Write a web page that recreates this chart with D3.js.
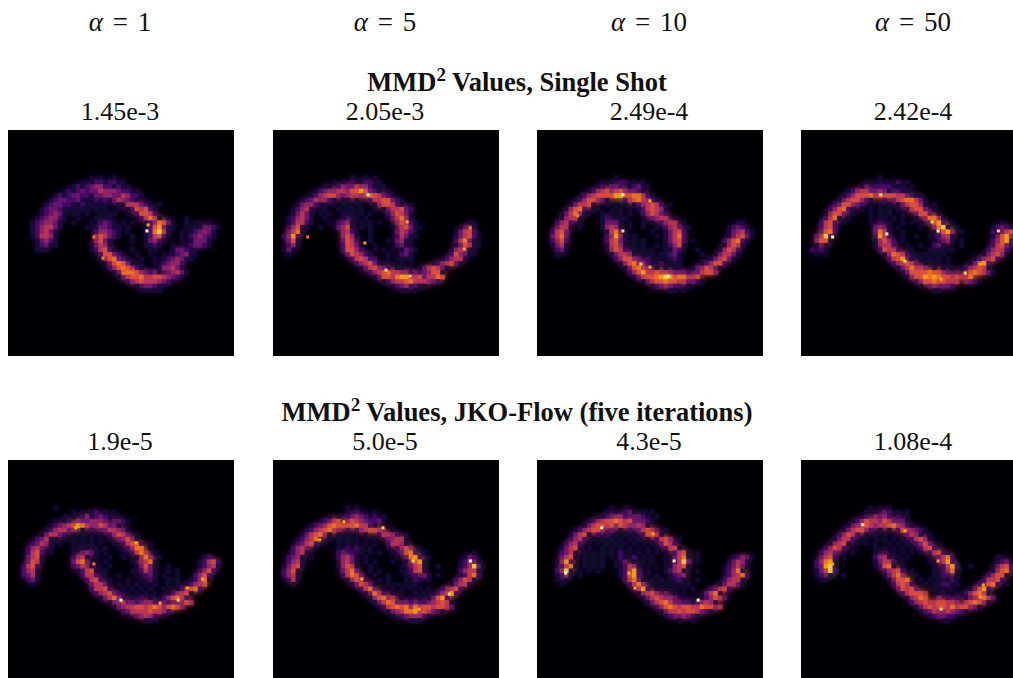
<!DOCTYPE html>
<html><head><meta charset="utf-8">
<script src="https://cdn.jsdelivr.net/npm/d3@7"></script>
<style>html,body{margin:0;padding:0;background:#fff;overflow:hidden}svg{display:block}</style>
</head><body><svg id="c" width="1013" height="678"></svg>
<script>
const alphaValues = [1, 5, 10, 50];
const singleShotLabels = ["1.45e-3", "2.05e-3", "2.49e-4", "2.42e-4"];
const jkoFlowLabels = ["1.9e-5", "5.0e-5", "4.3e-5", "1.08e-4"];
const titles = ["Values, Single Shot", "Values, JKO-Flow (five iterations)"];

// Intensity, 0-9, on a 50 x 50 grid.
// Each line is one grid row (first line = row 9), written as "column:digits" runs.
const density1 = [
"","15:101001","13:1012212211","11:1212344221211","9:12123233544432211","7:12123322133443354221",
"6:1233223111212135432101","5:12332211211110101155532101","4:12332111011010100101265621",
"4:123431011010010110010266520","3:12344210010001011 25:125751 32:1 36:1",
"2:1234431 11:1 15:1 17:232101 24:1 27:124763 33:1 36:1 38:1101",
"2:1245531 14:1 16:133211 23:1 27:126831 33:1 36:1 38:113321",
"2:124531 16:244321 23:1 27:127951 35:1 37:123431",
"2:125541 16:465321 24:1 27:125621 35:1 37:234321",
"3:13421 16:4631 24:1 27:13421 35:1 37:13331",
"3:12311 15:13541 27:1121 33:1 36:123321",
"3:111 15:125621 24:1 28:11 33:13321",
"16:1266321 25:1 28:1 31:1 33:123411",
"17:1467321 26:1 29:1 31:1234311",
"18:13676311 26:1 29:1 31:23442",
"19:24676421 30:144531",
"20:13677643231234531",
"21:135667556654321",
"23:24565554321","25:1233211","26:11111"
];
const density2 = [
"","18:1 21:1 23:1","14:1 16:1 18:21122 24:1","12:11024335442111","10:12344554668632101",
"9:1245664345545765321","7:12354421 16:11 19:1 22:25566321",
"6:1344211 14:1 16:1 18:1 20:1 23:1466521 31:1",
"5:12451 12:1 15:1 17:11 20:1 23:1 25:1355632",
"5:13531 11:1 13:1 16:111 20:1 22:1 26:246531",
"4:124531 12:1 16:12 19:1 21:1 26:1357410",
"4:125521 13:1 15:2341 20:1 22:1 24:1 28:46521 44:11",
"4:24611 11:1 15:3461 20:1 22:1 27:1 29:56311 42:1341",
"4:3571 16:4521 22:1 28:3542 41:13562",
"3:2482 16:4641 22:1 28:25311 41:135621",
"4:361 16:3652 22:1 26:1 28:3411 41:25731",
"4:241 16:26531 23:1 28:231 41:136511",
"3:131 16:26642 23:1 25:1 27:1 29:1321 40:145411",
"4:1 17:365421 26:1 29:231 40:264311",
"18:256522 26:1 28:1 30:11 38:124551",
"19:2456311 27:1 29:1 31:1 36:1245631",
"20:1356432 28:11 33:1356531",
"22:24567554423 33:234661",
"23:1366578855635576","25:1245567555432","27:12342211","29:11 32:1"
];
const density3 = [
"","17:1","14:1 16:1 18:22 21:1 23:1","13:120332012311","11:1245645643321","9:12456666886677521",
"8:12466431 19:25675421","7:135561 15:1 17:1 19:1 21:1245652 29:1",
"6:14672 12:11 16:1 18:1 20:1 22:1256541","5:135741 11:1 14:1 16:1 18:1 20:1 23:246532",
"5:14551 14:1 15:2 17:1 19:1 23:1 25:3455 30:1",
"4:2452 9:1 14:13331 20:1 23:1 25:1 27:2455 32:1 44:11",
"4:3551 9:1 14:14541 20:1 23:1 26:1 28:2453 33:1 42:12321",
"3:2563 15:15731 25:1 28:13562 42:134521",
"3:3573 15:24841 21:1 26:1 28:13572 42:135631",
"3:2462 15:25631 21:1 23:1 28:13562 34:1 41:246721",
"3:1351 15:15641 21:1 23:1 26:1 28:12461 41:14651",
"4:231 15:14652 21:1 23:1 25:1 28:11321 35:1 40:14652",
"4:11 16:135541 23:1 25:1 27:1 29:231 36:1 39:135531",
"17:246643 24:2 26:1 28:1 30:21 37:1 38:135631",
"18:14674421 27:2 29:1 31:1 36:124662",
"19:13675431 28:1 30:11 34:1346531",
"20:24685565543332 35:35664",
"21:135667898677556","23:13566766553321","25:1234322 33:1","29:11 32:1"
];
const density4 = [
"","17:1","14:1 16:1 18:11 21:2 23:1","13:1302222 20:111 24:1","10:12455334312211","9:124666756666553211",
"8:13566421 18:2 20:35677531","7:2366432 15:1 17:1 19:1 21:1356641 29:1",
"6:246721 13:1 15:1 17:1 19:1 21:1 23:25663 29:1","5:14663 11:1 15:1 17:1 19:1 22:1 25:3663 30:1",
"5:2571 10:1 15:1 17:11 20:1 22:1 25:1 27:47741",
"4:2562 9:1 15:1 17:2 19:1 22:1 24:1 26:1 28:3682 33:1 44:1",
"4:2562 16:3431 21:1 26:1 29:4791 34:1 42:12321",
"4:3672 16:3751 22:1 29:13684 35:1 42:213563",
"3:3592 16:2852 22:1 25:1 28:1 30:2451 42:136841",
"3:4661 16:14642 22:1 29:1 31:341 35:1 42:24682",
"3:131 16:14552 23:1 26:1 29:231 35:1 42:25632",
"2:2 4:21 17:26552 24:1 28:1 30:1 32:11 41:24552",
"3:1 5:1 18:147652 25:1 27:1 29:1 31:1 40:135641",
"19:256831 26:1 28:1 30:1 32:1 38:124562",
"20:245653 27:1 29:11 32:1 37:13682",
"21:1357554 29:1 31:1 33:1 35:124565 41:1",
"22:13666676643 34:3 36:4676531",
"23:146687876656557","25:2466766555 36:4321","26:1 28:343332","29:11"
];
const density5 = [
"","10:1","14:1 16:1 18:12 21:1 23:1","12:1 14:1 16:2412321 24:1","10:1 12:12 15:4334443 23:3321",
"9:1234568754465331","8:1245534 16:1 18:2 20:3355431","7:135532 14:1 16:1 18:1 20:1 22:24653 28:1",
"6:23511 12:1 14:1 16:1 18:1 20:1 22:1 24:34641","5:23541 11:1 14:1 16:1 18:1 20:1 23:1 25:25662 31:1",
"4:2453 9:1 14:1 16:11 19:1 21:1 24:1 26:2477 31:1",
"4:2562 9:1 14:1 16:3431 21:1 25:1 27:2575 32:1",
"4:3561 14:2451 19:1 22:1 25:1 28:1474 33:1 43:12",
"4:3651 14:3673 19:1 21:1 27:1 29:4571 42:12562",
"3:2562 14:23541 20:1 22:1 28:13631 35:1 42:12451",
"3:2451 15:12561 21:1 27:1 29:2531 35:1 37:1 42:2462",
"3:2351 16:2552 21:1 24:1 28:1 30:231 34:1 37:1 41:2462",
"4:231 17:2562 22:1 26:1 29:1 31:21 35:1 37:1 40:12471",
"5:1 18:35531 24:1 26:1 28:1 30:1 32:1 35:1 37:1 39:12456",
"18:25562 25:1 27:1 29:1 31:1 34:1 37:124672",
"19:245632 26:1 28:1 30:1 32:1 35:124561",
"20:135742 27:1 29:2 31:1 33:1246752",
"22:13453 27:32344223233465",
"23:1345566567646764","25:23555565542","26:1 28:34542 34:1","30:111"
];
const density6 = [
"","16:1 18:1","16:1 18:2 20:1 22:1","12:1 14:1 16:23432 22:2 24:1","10:123563465432231",
"8:123467666675521","7:12456754 16:2 18:2456654 26:1","6:1356741 14:1 16:1 18:1 20:1 23:25542 29:1",
"5:124572 12:1 14:1 16:1 18:1 20:1 22:1 25:34551","5:23562 11:1 14:1 16:1 18:1 20:1 22:1 25:25541",
"4:2453 9:1 14:1 16:2 18:21 21:1 25:1 27:2464 32:1",
"4:2451 14:23 17:2 19:1 21:1 23:1 26:1 28:3672 33:1 44:1",
"3:2341 8:1 14:24531 20:1 27:1 29:3782 34:1 42:132",
"3:2451 15:4531 20:1 22:1 26:1 29:14681 41:12431",
"2:13561 14:14651 21:1 28:1 30:3561 36:1 41:124931",
"2:2461 15:3573 21:1 23:1 28:1 30:2561 41:24551",
"2:2451 15:25763 22:1 25:1 29:1 31:2331 36:1 41:12572",
"3:251 16:14652 23:1 25:1 29:1 31:21 34:1 40:24651",
"4:1 17:136531 25:1 27:1 29:1 31:1 39:13551",
"19:2573 24:1 26:1 28:1 30:1 32:1 34:1 37:24562",
"20:13752 26:1 28:1 31:1 33:1 35:124582",
"21:146745 28:1 30:1 32:1 34:13682",
"22:13576333 30:2322345651",
"23:12567674756656653","25:1345778565321","26:1 28:2344421","30:111"
];
const density7 = [
"","15:1 18:1","14:1 16:1 18:231 22:1 24:1","12:1123442 20:3321 25:1","10:124566765633321",
"9:135665646544541","7:1245664 15:3 17:1 19:2 21:35653 27:1","6:13561 12:2 14:2 16:1 18:1 20:1 22:26651",
"6:2452 11:1 13:1 15:1 17:1 19:1 21:1 23:1 25:2564 30:1",
"5:2452 10:1 12:1 14:1 16:1 18:1 20:1 22:1 24:1 26:3652",
"4:13561 10:1 13:1 15:1 17:1 19:1 21:1 23:1 25:1 27:2561",
"4:2351 9:1 11:1 13:1 15:1 17:2 19:1 21:1 23:1 25:1 27:1 29:2561 34:1",
"4:3561 9:1 11:1 13:1 15:1 17:21 20:2 22:1 24:1 27:1 29:3571 34:1 42:12431",
"3:1482 9:1 11:1 13:1 16:1 18:3 20:1 22:1 24:1 27:1 29:2593 34:1 41:13541",
"4:2571 9:1 11:1 13:1 16:1 18:2541 23:1 25:1 27:1 28:14561 41:23531",
"3:2491 8:1 10:1 12:1 17:12582 23:1 27:12451 34:1 40:12471",
"3:1241 8:1 17:12682 23:1 25:1 28:12341 41:24572",
"3:1 5:1 18:25731 24:1 26:1 28:1 30:21 34:1 40:24551",
"4:1 19:2574 24:1 26:1 28:1 30:1 32:1 39:135531",
"20:2582 25:1 27:1 29:1 31:1 33:1 37:23562",
"21:14564 27:3 29:1 31:1 35:13571",
"22:135654 28:43 31:1 33:1 35:124653",
"23:13567533 31:221 34:24541",
"25:246765665576645","26:135565665321","27:12 29:334321","30:1 33:1"
];
const density8 = [
"","15:1 17:1 19:1","14:1 16:1 18:32 21:1 23:1","13:1204342 21:2 23:1","11:1246554653331",
"10:134565455675421","9:135664 15:2 17:1 19:1 21:2654321","8:24652 14:1 16:1 18:1 20:1 23:3541 28:1",
"7:13552 13:1 16:1 18:1 20:1 22:1 24:25641","6:14561 12:1 14:1 16:1 19:1 21:1 23:1 25:2463 30:1",
"5:24652 11:1 16:1 18:1 20:1 22:1 24:1 26:2562",
"4:2453 9:1 11:1 16:1 18:2 20:1 22:1 24:1 26:1 28:25621",
"4:3562 9:1 16:2451 21:1 23:1 28:1 30:3572 43:11",
"3:24781 16:13552 22:1 28:1 30:3582 43:1231",
"3:23891 16:12671 22:1 29:1 31:2582 37:1 42:13562",
"3:13592 18:24562 24:1 29:1 31:2471 42:14672",
"3:1231 9:1 18:13574 25:1 29:1 31:22 34:1 41:24661",
"4:11 19:13667 26:1 28:1 30:1 32:121 40:25562",
"20:25652 27:1 29:1 31:22 34:1 39:23672 45:1",
"21:36563 29:1 31:1 33:1 37:13682",
"22:256665 30:1 32:1 34:1 35:1 36:246751",
"23:14576 30:4 32:2 34:2 36:1345753",
"24:24565566554 36:56764 41:1",
"25:135656657566431","26:12354454321","28:1233221","31:11"
];
const densityGrids = [density1, density2, density3, density4, density5, density6, density7, density8];
const gridColumnStart = [3, -1, 0, 0, 0, 0, 1, 0];

// Brightest single cells on the 75 x 75 image grid: [column, row, intensity 0-10].
const hot1 = [[45.6,33,10],[46,31,8],[28,35,7],[31,42,7],[38,47,7],[41,46,6]];
const hot2 = [[31,21,10],[11,35,7],[30,37,8],[37,46,9],[45,48,9],[44,30,8],[63,39,8],[65,32,7],[63,36,7]];
const hot3 = [[28,21,10],[28,33,9],[37,23,8],[43,48,10],[34,44,9],[37,45,8],[13,28,7]];
const hot4 = [[10,35,10],[28,34,10],[26,21,9],[45,33,10],[43,30,9],[34,43,9],[65,33,9],[59,44,8],[54,47,9],[46,49,8]];
const hot5 = [[37,46,10],[28,34,7],[22,22,8],[42,27,8],[64,39,8],[56,46,9],[50,47,8],[59,42,8]];
const hot6 = [[65,33,10],[46,33,9],[58,44,9],[15,26,8],[23,20,8],[36,22,9],[48,49,8],[29,39,8]];
const hot7 = [[21,22,10],[45,33,10],[53,46,10],[9,37,10],[30,37,8],[38,24,8],[32,42,8]];
const hot8 = [[20,21,10],[10,34,8],[45,33,8],[46,49,9],[34,23,8],[60,41,8],[59,45,8]];
const hotCells = [hot1, hot2, hot3, hot4, hot5, hot6, hot7, hot8];

const panelLefts = [8, 273, 537, 801];
const panelTops = [130, 460];
const panelSize = 226;
const firstRow = 9;

const svg = d3.select("#c");
const coarse = d3.scaleLinear().domain([0, 50]).range([0, panelSize]);
const fine = d3.scaleLinear().domain([0, 75]).range([0, panelSize]);
const colour = d3.scaleSequential(d3.interpolateInferno).domain([0, 10]);
const serif = "'Liberation Serif','Times New Roman',serif";

svg.append("defs").append("filter").attr("id", "soft")
  .attr("filterUnits", "userSpaceOnUse").attr("x", 0).attr("y", 0)
  .attr("width", panelSize).attr("height", panelSize)
  .append("feGaussianBlur").attr("stdDeviation", 3.2);

densityGrids.forEach((grid, i) => {
  const left = panelLefts[i % 4], top = panelTops[i < 4 ? 0 : 1];
  const g = svg.append("g").attr("transform", `translate(${left},${top})`);
  g.append("rect").attr("width", panelSize).attr("height", panelSize).attr("fill", colour(0));
  const cells = [];
  grid.forEach((row, r) => {
    row.split(" ").filter(Boolean).forEach(run => {
      const [start, digits] = run.split(":");
      [...digits].forEach((ch, k) => {
        if (+ch > 0) cells.push({c: +start + k + gridColumnStart[i], r: r + firstRow, v: +ch});
      });
    });
  });
  const drawCells = sel => sel.selectAll("rect").data(cells).join("rect")
    .attr("x", d => coarse(d.c)).attr("y", d => coarse(d.r))
    .attr("width", coarse(1) + 0.3).attr("height", coarse(1) + 0.3)
    .attr("fill", d => colour(d.v));
  // A blurred copy under the cells gives the soft halo the bands have in the picture.
  g.append("g").attr("filter", "url(#soft)").call(drawCells);
  g.append("g").attr("opacity", 0.8).call(drawCells);
  g.append("g").selectAll("rect").data(hotCells[i]).join("rect")
    .attr("x", d => fine(d[0])).attr("y", d => fine(d[1]))
    .attr("width", fine(1)).attr("height", fine(1))
    .attr("fill", d => colour(d[2]));
});

const centres = panelLefts.map(l => l + panelSize / 2 - 1);

const alphaText = svg.selectAll("text.alpha").data(alphaValues).join("text").attr("class", "alpha")
  .attr("x", (d, i) => centres[i]).attr("y", 31).attr("text-anchor", "middle")
  .attr("font-family", serif).attr("font-size", 27).attr("word-spacing", 3).attr("fill", "#111");
alphaText.append("tspan").attr("font-style", "italic").text("α");
alphaText.append("tspan").text(d => " = " + d);

[singleShotLabels, jkoFlowLabels].forEach((labels, k) => {
  svg.selectAll("text.v" + k).data(labels).join("text").attr("class", "v" + k)
    .attr("x", (d, i) => centres[i]).attr("y", k ? 449.5 : 119.5).attr("text-anchor", "middle")
    .attr("font-family", serif).attr("font-size", 26).attr("fill", "#111").text(d => d);
  const t = svg.append("text").attr("x", 517).attr("y", k ? 421 : 91).attr("text-anchor", "middle")
    .attr("font-family", serif).attr("font-size", 26.5).attr("font-weight", "bold").attr("fill", "#111");
  t.append("tspan").text("MMD");
  t.append("tspan").attr("dy", -10).attr("font-size", 19).text("2");
  t.append("tspan").attr("dy", 10).text(" " + titles[k]);
});
</script></body></html>
